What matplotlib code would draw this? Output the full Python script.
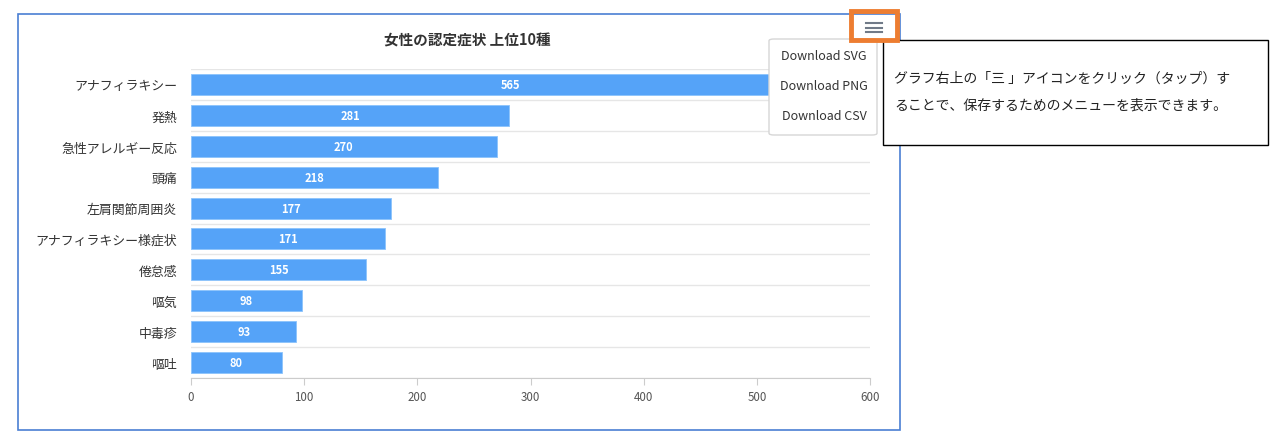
import matplotlib
matplotlib.use('Agg')
import matplotlib.pyplot as plt
from matplotlib.patches import Rectangle, FancyBboxPatch

plt.rcParams['font.family'] = ['Noto Sans CJK JP', 'DejaVu Sans']

# data
categories = ['アナフィラキシー', '発熱', '急性アレルギー反応', '頭痛', '左肩関節周囲炎',
              'アナフィラキシー様症状', '倦怠感', '嘔気', '中毒疹', '嘔吐']
counts = [565, 281, 270, 218, 177, 171, 155, 98, 93, 80]
xticks = [0, 100, 200, 300, 400, 500, 600]
title = '女性の認定症状 上位10種'
menu_items = ['Download SVG', 'Download PNG', 'Download CSV']
note = ['グラフ右上の「三 」アイコンをクリック（タップ）す',
        'ることで、保存するためのメニューを表示できます。']

W, H = 1278, 439
fig = plt.figure(figsize=(W / 100, H / 100), dpi=100)

def fx(px):
    return px / W

def fy(py):
    return 1 - py / H

# outer chart panel
fig.patches.append(Rectangle((fx(18), fy(431)), fx(900) - fx(18), fy(15) - fy(431),
                             transform=fig.transFigure, fill=False, ec='#4a7fd3', lw=1.2))

ax = fig.add_axes([fx(191), fy(379), fx(870) - fx(191), fy(70) - fy(379)])
ypos = list(range(len(categories)))
ax.barh(ypos, counts, height=0.68, color='#55a3f8', edgecolor='#8cc3fb', lw=0.6, zorder=3)
for y, v in zip(ypos, counts):
    ax.text(v / 2, y, str(v), ha='center', va='center', color='white',
            fontsize=8, fontweight='bold', zorder=4)
ax.set_ylim(len(categories) - 0.5, -0.5)
ax.set_xlim(0, 600)
ax.set_yticks(ypos)
ax.set_yticklabels(categories, fontsize=9.3, color='#333333')
ax.set_xticks(xticks)
ax.set_xticklabels([str(t) for t in xticks], fontsize=8.3, color='#555555')
for b in range(len(categories) + 1):
    ax.axhline(b - 0.5, color='#e6e6e6', lw=1, zorder=1)
for s in ['top', 'right', 'left']:
    ax.spines[s].set_visible(False)
ax.spines['bottom'].set_color('#cccccc')
ax.tick_params(axis='y', length=0, pad=10)
ax.tick_params(axis='x', length=5, color='#cccccc', pad=4)

fig.text(fx(467), fy(40), title, ha='center', va='center', fontsize=10.5,
         fontweight='bold', color='#333333')

# dropdown menu
fig.patches.append(FancyBboxPatch((fx(769), fy(136)), fx(877) - fx(769), fy(40) - fy(136),
                                  boxstyle='round,pad=0,rounding_size=0.004',
                                  transform=fig.transFigure, fc='white', ec='#d6d6d6', lw=1, zorder=5))
for i, item in enumerate(menu_items):
    fig.text(fx(824), fy(57 + 30 * i), item, ha='center', va='center', fontsize=9,
             color='#333333', zorder=6)

# menu icon with orange highlight
fig.patches.append(Rectangle((fx(851), fy(41)), fx(897) - fx(851), fy(12) - fy(41),
                             transform=fig.transFigure, fill=False, ec='#ed7d31', lw=3.5, zorder=6))
for yy in (24, 28.5, 33):
    fig.lines.append(plt.Line2D([fx(866), fx(882)], [fy(yy), fy(yy)], transform=fig.transFigure,
                                color='#707a88', lw=1.5, zorder=7))

# callout note
fig.patches.append(Rectangle((fx(883), fy(146)), fx(1268) - fx(883), fy(41) - fy(146),
                             transform=fig.transFigure, fc='white', ec='black', lw=1, zorder=5))
for i, line in enumerate(note):
    fig.text(fx(894), fy(79 + 27 * i), line, ha='left', va='center', fontsize=10,
             color='#222222', zorder=6)

fig.savefig('out.png', dpi=100)
